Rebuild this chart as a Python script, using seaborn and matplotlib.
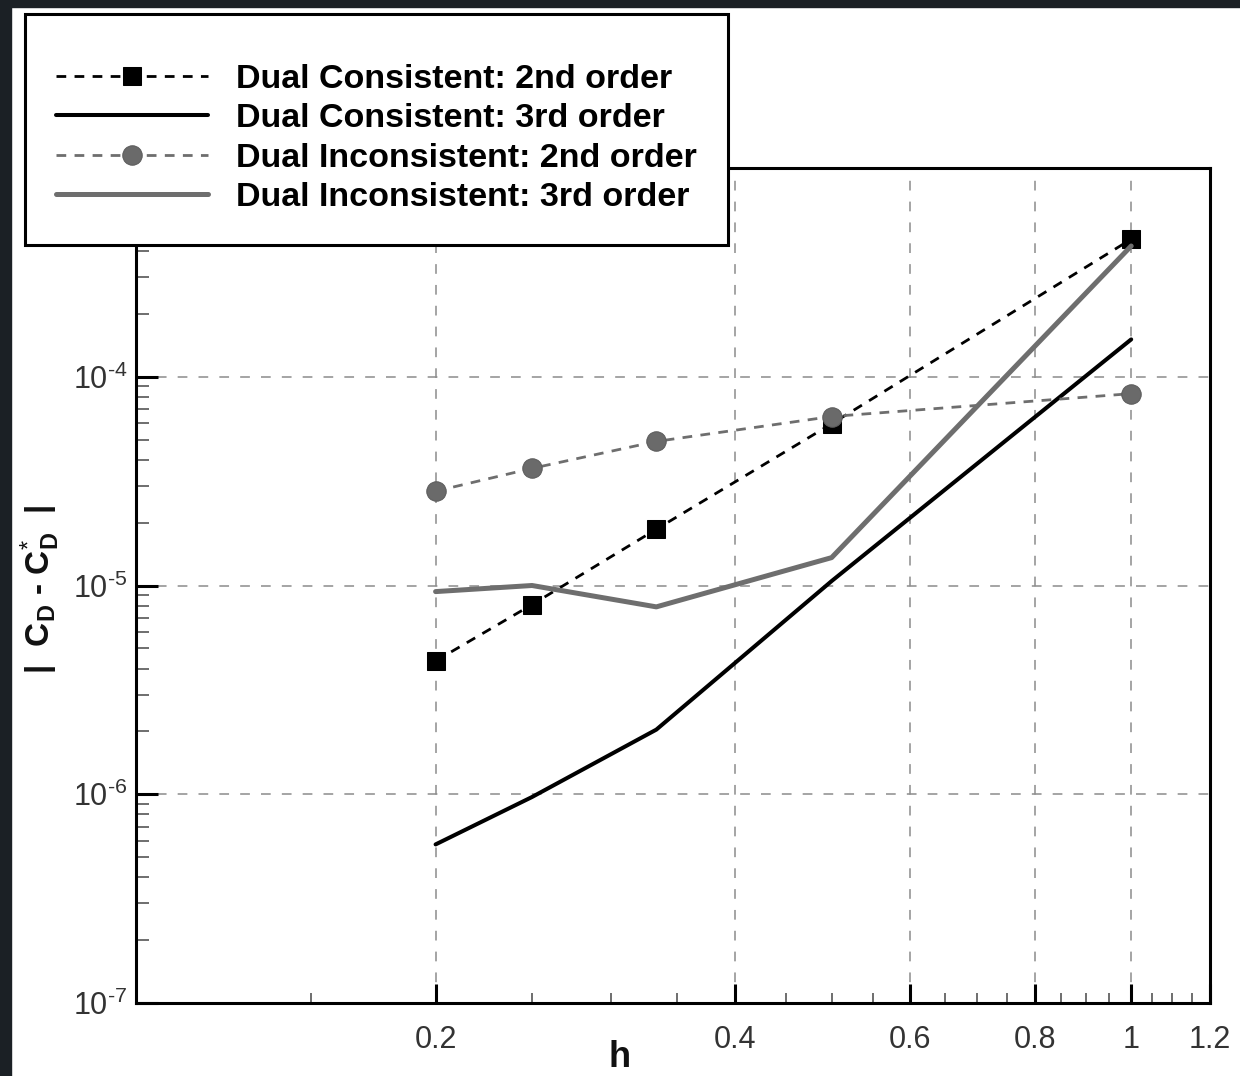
import numpy as np
import pandas as pd
import matplotlib
matplotlib.use("Agg")
import matplotlib.pyplot as plt
import seaborn as sns
from matplotlib.ticker import FixedLocator, FixedFormatter, LogLocator, NullFormatter
from matplotlib.patches import Rectangle

# Mesh size and drag-coefficient error for each scheme
h = [0.2, 0.25, 0.3333, 0.5, 1.0]
dual_consistent_2nd = [4.35e-6, 8.1e-6, 1.86e-5, 5.95e-5, 4.56e-4]
dual_consistent_3rd = [5.75e-7, 9.7e-7, 2.04e-6, 1.05e-5, 1.51e-4]
dual_inconsistent_2nd = [2.83e-5, 3.64e-5, 4.9e-5, 6.45e-5, 8.3e-5]
dual_inconsistent_3rd = [9.35e-6, 1.0e-5, 7.9e-6, 1.36e-5, 4.23e-4]

series_labels = [
    "Dual Consistent: 2nd order",
    "Dual Consistent: 3rd order",
    "Dual Inconsistent: 2nd order",
    "Dual Inconsistent: 3rd order",
]

x_major = [0.2, 0.4, 0.6, 0.8, 1.0, 1.2]
x_major_labels = ["0.2", "0.4", "0.6", "0.8", "1", "1.2"]
x_minor = [0.15, 0.25, 0.3, 0.35, 0.45, 0.5, 0.55, 0.65, 0.7, 0.75,
           0.85, 0.9, 0.95, 1.05, 1.1, 1.15]
y_major = [1e-7, 1e-6, 1e-5, 1e-4, 1e-3]
HY = "\u2010"  # short hyphen for the exponent sign
y_major_labels = [r"10$^{\mathregular{" + HY + e + "}}$" for e in ["7", "6", "5", "4", "3"]]

sns.set_style("white")
plt.rcParams["font.family"] = ["Liberation Sans", "DejaVu Sans"]
plt.rcParams["mathtext.fontset"] = "custom"
plt.rcParams["mathtext.rm"] = "Liberation Sans"
plt.rcParams["mathtext.it"] = "Liberation Sans:italic"
plt.rcParams["mathtext.bf"] = "Liberation Sans:bold"
plt.rcParams["lines.scale_dashes"] = False

W, H = 1240, 1076
fig = plt.figure(figsize=(W / 100, H / 100), dpi=100)
fig.patch.set_facecolor("white")

# dark frame around the page
frame_col = "#1b2025"
fig.add_artist(Rectangle((0, 0), 11 / W, 1, transform=fig.transFigure,
                         color=frame_col, zorder=0))
fig.add_artist(Rectangle((0, 1 - 7 / H), 1, 7 / H, transform=fig.transFigure,
                         color=frame_col, zorder=0))

ax_l, ax_r, ax_t, ax_b = 136, 1210, 168, 1003
ax = fig.add_axes([ax_l / W, 1 - ax_b / H, (ax_r - ax_l) / W, (ax_b - ax_t) / H])

grey = "#6e6e6e"
dash = (0, (7, 6))
styles = [
    dict(color="black", linestyle=dash, linewidth=2.0, marker="s",
         markersize=12.5, markerfacecolor="black", markeredgecolor="black"),
    dict(color="black", linestyle="-", linewidth=2.9),
    dict(color=grey, linestyle=dash, linewidth=2.0, marker="o",
         markersize=14, markerfacecolor="#6a6a6a", markeredgecolor="#5c5c5c"),
    dict(color=grey, linestyle="-", linewidth=3.6),
]
values = [dual_consistent_2nd, dual_consistent_3rd,
          dual_inconsistent_2nd, dual_inconsistent_3rd]

for vals, lab, st in zip(values, series_labels, styles):
    df = pd.DataFrame({"h": h, "err": vals})
    sns.lineplot(data=df, x="h", y="err", ax=ax, label=lab, legend=False,
                 zorder=4, **st)

ax.set_xscale("log")
ax.set_yscale("log")
ax.set_xlim(0.1, 1.2)
ax.set_ylim(1e-7, 1e-3)

ax.xaxis.set_major_locator(FixedLocator(x_major))
ax.xaxis.set_major_formatter(FixedFormatter(x_major_labels))
ax.xaxis.set_minor_locator(FixedLocator(x_minor))
ax.xaxis.set_minor_formatter(NullFormatter())
ax.yaxis.set_major_locator(FixedLocator(y_major))
ax.yaxis.set_major_formatter(FixedFormatter(y_major_labels))
ax.yaxis.set_minor_locator(LogLocator(base=10, subs=np.arange(2, 10)))
ax.yaxis.set_minor_formatter(NullFormatter())

ax.grid(True, which="major", color="#8c8c8c", linestyle=(0, (7, 8)), linewidth=1.1)
ax.set_axisbelow(True)

ax.tick_params(axis="both", which="both", direction="in", top=False, right=False,
               bottom=True, left=True, labelcolor="#333333", labelsize=22)
ax.tick_params(axis="x", which="major", length=14, width=2.2, pad=16, color="black")
ax.tick_params(axis="x", which="minor", length=7, width=1.2, color="#555555")
ax.tick_params(axis="y", which="major", length=16, width=2.2, pad=6, color="black")
ax.tick_params(axis="y", which="minor", length=9.5, width=1.2, color="#555555")

for sp in ax.spines.values():
    sp.set_linewidth(2.2)
    sp.set_color("black")

ax.set_xlabel("h", fontsize=26, fontweight="bold", color="#111111")
ax.xaxis.set_label_coords((620 - ax_l) / (ax_r - ax_l), -(1040 - ax_b) / (ax_b - ax_t))
ax.set_ylabel(r"|  C$_{\mathbf{D}}$ - C$_{\mathbf{D}}^{*}$  |", fontsize=24,
              fontweight="bold", color="#111111")
ax.yaxis.set_label_coords(-(ax_l - 62) / (ax_r - ax_l), 0.495)

handles, labels = ax.get_legend_handles_labels()
leg = ax.legend(handles, labels, loc="upper left",
                bbox_to_anchor=(25 / W, 1 - 14 / H), bbox_transform=fig.transFigure,
                borderaxespad=0, frameon=True, fancybox=False, framealpha=1,
                edgecolor="black", facecolor="white", numpoints=1,
                prop={"family": "Liberation Sans", "weight": "bold", "size": 24.5},
                title=" ", title_fontsize=8,
                handlelength=4.45, handletextpad=0.82, borderpad=0.92,
                labelspacing=0.25, labelcolor="black")
leg.get_frame().set_linewidth(2.2)
leg.set_zorder(10)

fig.savefig("out.png", dpi=100, facecolor="white")
